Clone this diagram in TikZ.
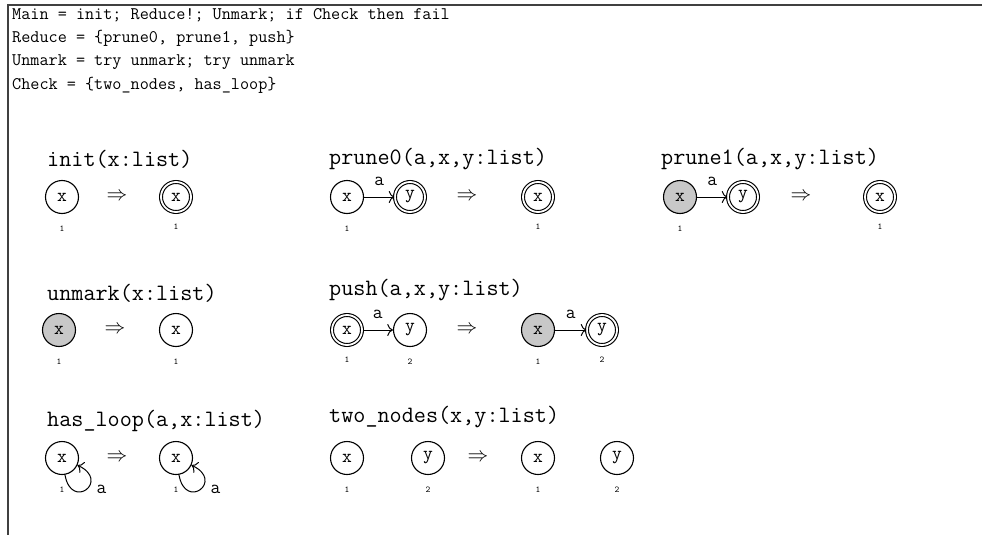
\documentclass[tikz,border=0pt]{standalone}
\usepackage{fontspec}
\usepackage{amsmath}
\usepackage{tikz}
\usetikzlibrary{positioning,arrows.meta}
\definecolor{markgrey}{RGB}{200,200,200}

\begin{document}
\begin{tikzpicture}[
        x=1pt, y=-1pt,
        on grid,
        code/.style={
            anchor=west,
            inner sep=0pt,
            text height=11pt,
            text depth=3pt,
            font=\ttfamily\fontsize{17.7}{20}\selectfont
        },
        rulename/.style={
            code,
            font=\ttfamily\fontsize{23.5}{26}\selectfont
        },
        vertex/.style={
            circle,
            draw,
            line width=1.1pt,
            minimum size=33pt,
            inner sep=0pt,
            font=\ttfamily\fontsize{19}{19}\selectfont
        },
        root/.style={vertex, double, double distance=1.8pt, minimum size=30pt},
        marked/.style={vertex, fill=markgrey},
        idx/.style={label={[inner sep=0pt, text height=6pt, text depth=0pt,
            label distance=11pt, font=\ttfamily\fontsize{9}{9}\selectfont]below:#1}},
        implies/.style={inner sep=0pt, font=\fontsize{22}{22}\selectfont},
        edge/.style={-{To[scale=1.5]}, line width=1pt},
        lbl/.style={inner sep=1pt, font=\ttfamily\fontsize{19}{19}\selectfont},
        frame/.style={black!75, line width=1.2pt}
    ]

    \useasboundingbox (0,0) rectangle (982,535);
    \draw[frame] (8,535) -- (8,5) -- (982,5);

    % Program
    \node[code] (mainln)   at (12,16) {Main = init; Reduce!; Unmark; if Check then fail};
    \node[code] (reduceln) at (12,39) {Reduce = \{prune0, prune1, push\}};
    \node[code] (unmarkln) at (12,62) {Unmark = try unmark; try unmark};
    \node[code] (checkln)  at (12,85) {Check = \{two\_nodes, has\_loop\}};

    % init
    \node[rulename] (inittl) at (47,162) {init(x:list)};
    \node[vertex, idx=1] (ilx) at (62,197) {x};
    \node[implies, right=55pt of ilx] (iimp) {$\Rightarrow$};
    \node[root, idx=1, right=59pt of iimp] (irx) {x};

    % prune0
    \node[rulename] (prunezerotl) at (329,160) {prune0(a,x,y:list)};
    \node[vertex, idx=1] (pzx) at (347,197) {x};
    \node[root, right=63pt of pzx] (pzy) {y};
    \node[implies, right=57pt of pzy] (pzimp) {$\Rightarrow$};
    \node[root, idx=1, right=71pt of pzimp] (pzrx) {x};

    % prune1
    \node[rulename] (pruneonetl) at (661,160) {prune1(a,x,y:list)};
    \node[marked, idx=1] (pox) at (680,197) {x};
    \node[root, right=63pt of pox] (poy) {y};
    \node[implies, right=58pt of poy] (poimp) {$\Rightarrow$};
    \node[root, idx=1, right=79pt of poimp] (porx) {x};

    % unmark
    \node[rulename] (unmarktl) at (47,296) {unmark(x:list)};
    \node[marked, idx=1] (umx) at (59,330) {x};
    \node[implies, right=56pt of umx] (umimp) {$\Rightarrow$};
    \node[vertex, idx=1, right=61pt of umimp] (umrx) {x};

    % push
    \node[rulename] (pushtl) at (329,291) {push(a,x,y:list)};
    \node[root, idx=1] (pux) at (347,330) {x};
    \node[vertex, idx=2, right=63pt of pux] (puy) {y};
    \node[implies, right=57pt of puy] (puimp) {$\Rightarrow$};
    \node[marked, idx=1, right=71pt of puimp] (purx) {x};
    \node[root, idx=2, right=64pt of purx] (pury) {y};

    % has_loop
    \node[rulename] (haslooptl) at (47,422) {has\_loop(a,x:list)};
    \node[vertex, idx=1] (hlx) at (62,458) {x};
    \node[implies, right=55pt of hlx] (hlimp) {$\Rightarrow$};
    \node[vertex, idx=1, right=59pt of hlimp] (hlrx) {x};

    % two_nodes
    \node[rulename] (twonodestl) at (329,418) {two\_nodes(x,y:list)};
    \node[vertex, idx=1] (tnx) at (347,458) {x};
    \node[vertex, idx=2, right=81pt of tnx] (tny) {y};
    \node[implies, right=50pt of tny] (tnimp) {$\Rightarrow$};
    \node[vertex, idx=1, right=60pt of tnimp] (tnrx) {x};
    \node[vertex, idx=2, right=79pt of tnrx] (tnry) {y};

    % Edges
    \draw[edge] (pzx) -- node[lbl, above=10pt] (pza) {a} (pzy);
    \draw[edge] (pox) -- node[lbl, above=10pt] (poa) {a} (poy);
    \draw[edge] (pux) -- node[lbl, above=10pt] (pua) {a} (puy);
    \draw[edge] (purx) -- node[lbl, above=10pt] (pura) {a} (pury);
    \draw[edge] (hlx) to[out=-80, in=-25, looseness=6]
        node[lbl, pos=0.5, right=9pt] (hla) {a} (hlx);
    \draw[edge] (hlrx) to[out=-80, in=-25, looseness=6]
        node[lbl, pos=0.5, right=9pt] (hlra) {a} (hlrx);

\end{tikzpicture}
\end{document}
